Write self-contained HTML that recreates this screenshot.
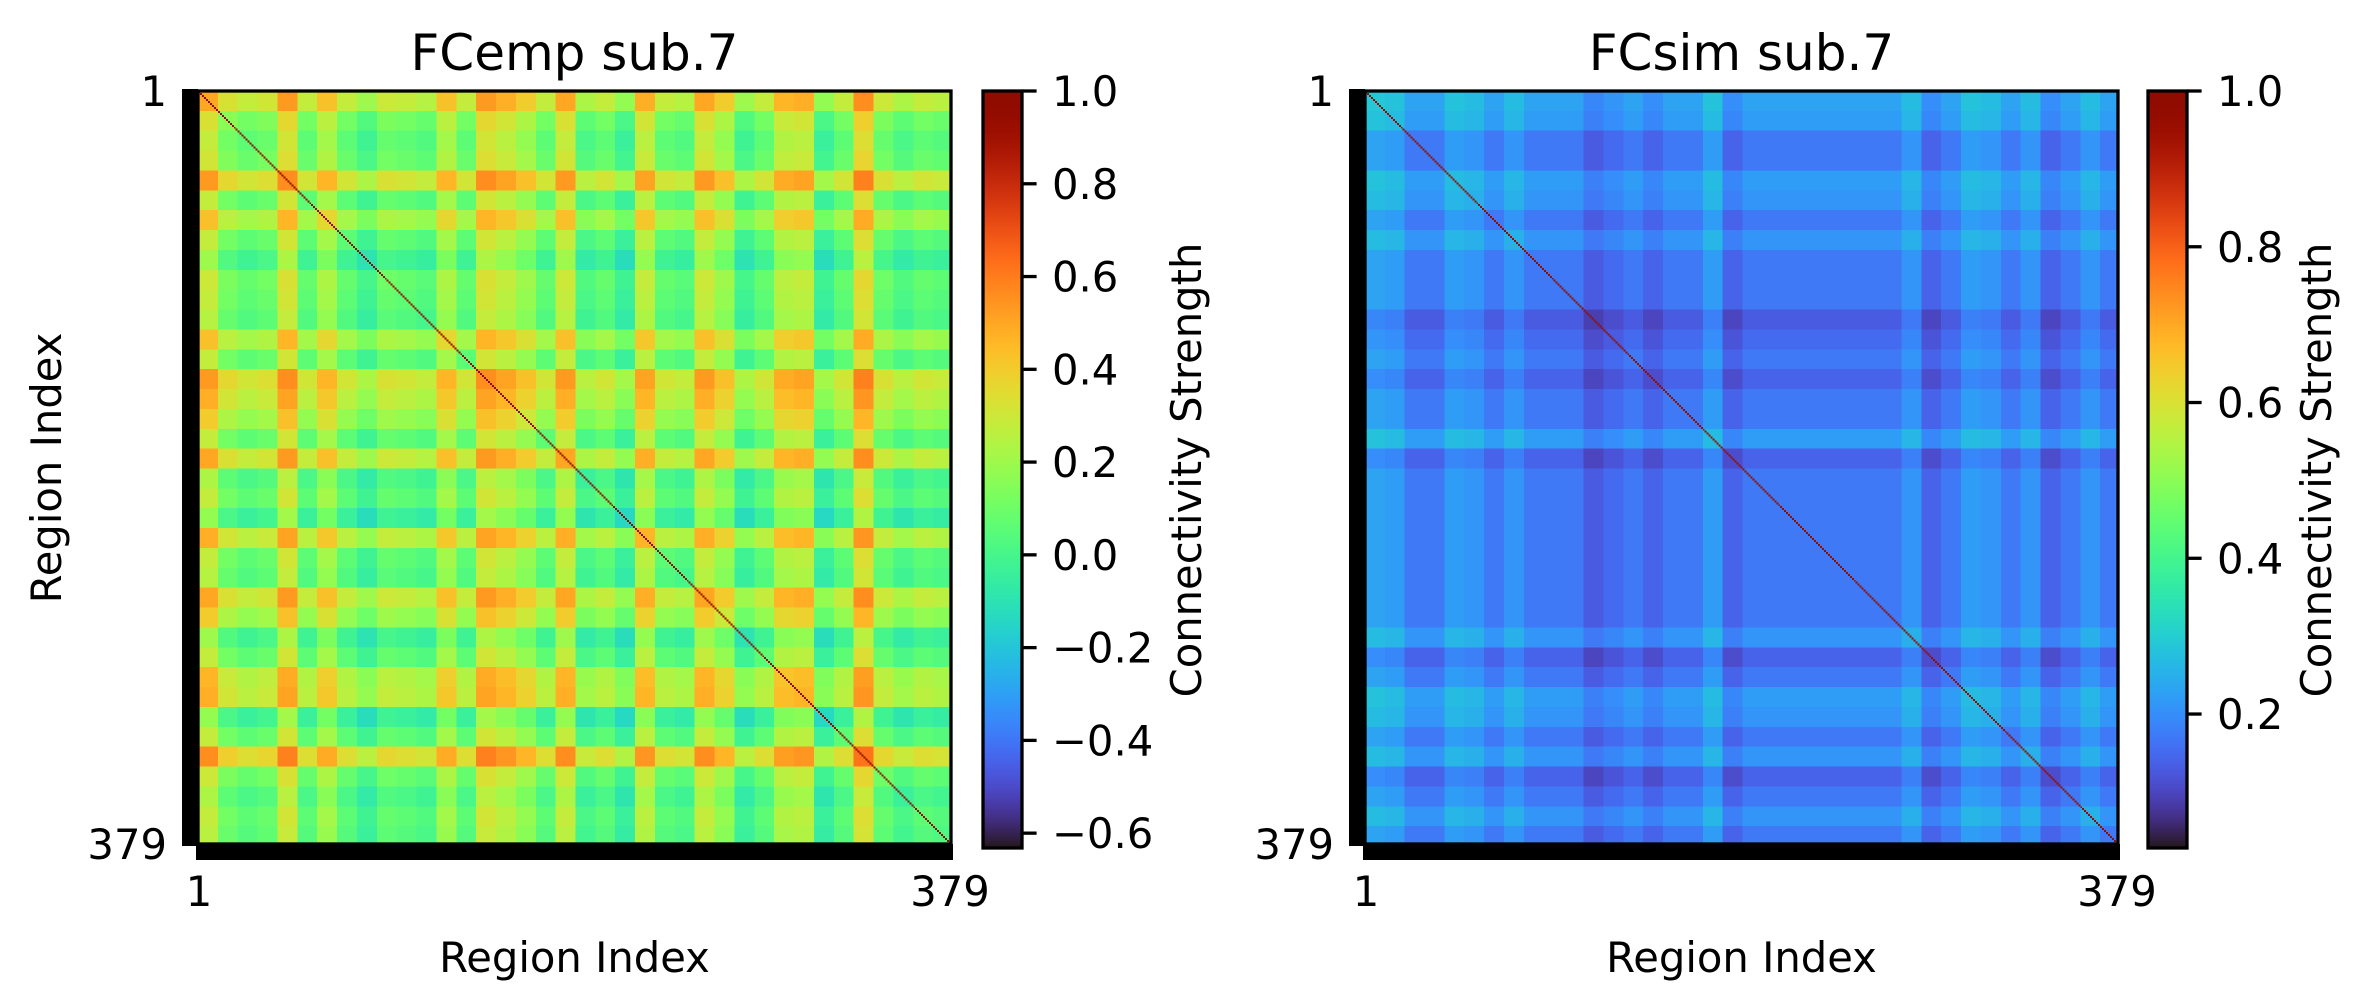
<!DOCTYPE html>
<html><head><meta charset="utf-8"><style>
html,body{margin:0;padding:0;background:#fff;}
#root{position:relative;width:2370px;height:1005px;overflow:hidden;font-family:"DejaVu Sans","Liberation Sans",sans-serif;}
canvas{position:absolute;image-rendering:pixelated;}
svg{position:absolute;left:0;top:0;}
</style></head><body>
<div id="root">
<canvas id="hmL" width="379" height="379" style="left:198px;top:91px;width:753px;height:753px"></canvas>
<canvas id="hmR" width="379" height="379" style="left:1365px;top:91px;width:753px;height:753px"></canvas>
<canvas id="cbL" width="1" height="757" style="left:983px;top:91px;width:39px;height:757px"></canvas>
<canvas id="cbR" width="1" height="757" style="left:2148px;top:91px;width:39px;height:757px"></canvas>
<svg id="ov" width="2370" height="1005"></svg>
</div>
<script>
// ---- data ----
const nRegions = 379;
const bandSize = 10;
// per-band profile (38 bands of 10 regions) for empirical FC
const empProfile = [0.22,0.05,0,0.03,0.25,0,0.15,0,-0.08,0.02,0,-0.03,0.15,0,0.25,0.2,0.12,0,0.22,-0.05,0,-0.1,0.2,0,-0.03,0.22,0.12,-0.08,0,0.18,0.2,-0.1,0,0.28,0.02,-0.05,0,-0.02];
const empBase = 0.06;
// per-band profile for simulated FC
const simProfile = [0.06,0.05,0,0,0.05,0.04,0,0.04,0,0,0,-0.04,-0.02,0,-0.03,0,0,0.05,-0.03,0,0,0,0,0,0,0,0,0.04,-0.03,0,0.05,0.04,0,0.04,-0.03,0,0.04,0];
const simBase = 0.17;
const empRange = [-0.632, 1.0];
const simRange = [0.028, 1.0];
const empTicks = [-0.6,-0.4,-0.2,0.0,0.2,0.4,0.6,0.8,1.0];
const simTicks = [0.2,0.4,0.6,0.8,1.0];
const titles = ["FCemp sub.7","FCsim sub.7"];

function turbo(t){
  t=Math.max(0,Math.min(1,t));
  const r=0.13572138+t*(4.61539260+t*(-42.66032258+t*(132.13108234+t*(-152.94239396+t*59.28637943))));
  const g=0.09140261+t*(2.19418839+t*(4.84296658+t*(-14.18503333+t*(4.27729857+t*2.82956604))));
  const b=0.10667330+t*(12.64194608+t*(-60.58204836+t*(110.36276771+t*(-89.90310912+t*27.34824973))));
  return [Math.round(255*Math.max(0,Math.min(1,r))),Math.round(255*Math.max(0,Math.min(1,g))),Math.round(255*Math.max(0,Math.min(1,b)))];
}
function bandVal(prof,i){return prof[Math.min(prof.length-1,Math.floor(i/bandSize))];}
function drawHeat(id,prof,base,range){
  const c=document.getElementById(id),ctx=c.getContext('2d');
  const img=ctx.createImageData(nRegions,nRegions);
  for(let i=0;i<nRegions;i++)for(let j=0;j<nRegions;j++){
    const v=(i===j)?1.0:base+bandVal(prof,i)+bandVal(prof,j);
    const col=turbo((v-range[0])/(range[1]-range[0]));
    const k=(i*nRegions+j)*4;
    img.data[k]=col[0];img.data[k+1]=col[1];img.data[k+2]=col[2];img.data[k+3]=255;
  }
  ctx.putImageData(img,0,0);
}
function drawBar(id){
  const c=document.getElementById(id),ctx=c.getContext('2d');
  for(let y=0;y<757;y++){const col=turbo(1-y/756);ctx.fillStyle=`rgb(${col[0]},${col[1]},${col[2]})`;ctx.fillRect(0,y,1,1);}
}
drawHeat('hmL',empProfile,empBase,empRange);
drawHeat('hmR',simProfile,simBase,simRange);
drawBar('cbL');drawBar('cbR');

const NS='http://www.w3.org/2000/svg';
const ov=document.getElementById('ov');
function el(tag,attrs,txt){const e=document.createElementNS(NS,tag);for(const k in attrs)e.setAttribute(k,attrs[k]);if(txt!==undefined)e.textContent=txt;ov.appendChild(e);return e;}

const panels=[{x0:198,cb:983,ticks:empTicks,range:empRange,name:'fcemp'},{x0:1365,cb:2148,ticks:simTicks,range:simRange,name:'fcsim'}];
panels.forEach((p,pi)=>{
  const x0=p.x0, y0=91, S=753;
  let e;
  e=el('rect',{x:x0,y:y0,width:S,height:S,fill:'none',stroke:'#000','stroke-width':3.3});
  
  
  e=el('rect',{x:x0-16,y:y0-2,width:16,height:S+4,fill:'#000'});
  
  
  e=el('rect',{x:x0-2,y:y0+S,width:S+4,height:16,fill:'#000'});
  
  
  const fs='41.7px';
  e=el('text',{x:x0-31,y:y0+15,'text-anchor':'end','font-size':fs},'1');
  
  
  e=el('text',{x:x0-31,y:y0+S+15,'text-anchor':'end','font-size':fs},'379');
  
  
  e=el('text',{x:x0+1,y:906,'text-anchor':'middle','font-size':fs},'1');
  
  
  e=el('text',{x:x0+S-1,y:906,'text-anchor':'middle','font-size':fs},'379');
  
  
  e=el('text',{x:x0+S/2,y:70,'text-anchor':'middle','font-size':'50px'},titles[pi]);
  
  
  e=el('text',{x:x0+S/2,y:972,'text-anchor':'middle','font-size':fs},'Region Index');
  
  
  const cbx=p.cb, cbTop=91, cbH=757, cbW=39;
  e=el('rect',{x:cbx,y:cbTop,width:cbW,height:cbH,fill:'none',stroke:'#000','stroke-width':3.3});
  
  
  const yOf=v=>cbTop+cbH-(v-p.range[0])/(p.range[1]-p.range[0])*cbH;
  p.ticks.forEach(v=>{
    const y=yOf(v);
    const t=el('line',{x1:cbx+cbW,x2:cbx+cbW+14.6,y1:y,y2:y,stroke:'#000','stroke-width':3.3});
    
    
    const lab=(v<0?'\u2212':'')+Math.abs(v).toFixed(1);
    const l=el('text',{x:cbx+cbW+30,y:y+15,'font-size':fs},lab);
    
    
  });
  const lx = pi===0?1190:2320;
  e=el('text',{x:lx,y:470,'text-anchor':'middle','font-size':fs,transform:`rotate(-90 ${lx} 470)`,'dominant-baseline':'middle'},'Connectivity Strength');
  
  
});
const yl=el('text',{x:50,y:468,'text-anchor':'middle','font-size':'41.7px',transform:'rotate(-90 50 468)','dominant-baseline':'middle'},'Region Index');


</script>
</body></html>
